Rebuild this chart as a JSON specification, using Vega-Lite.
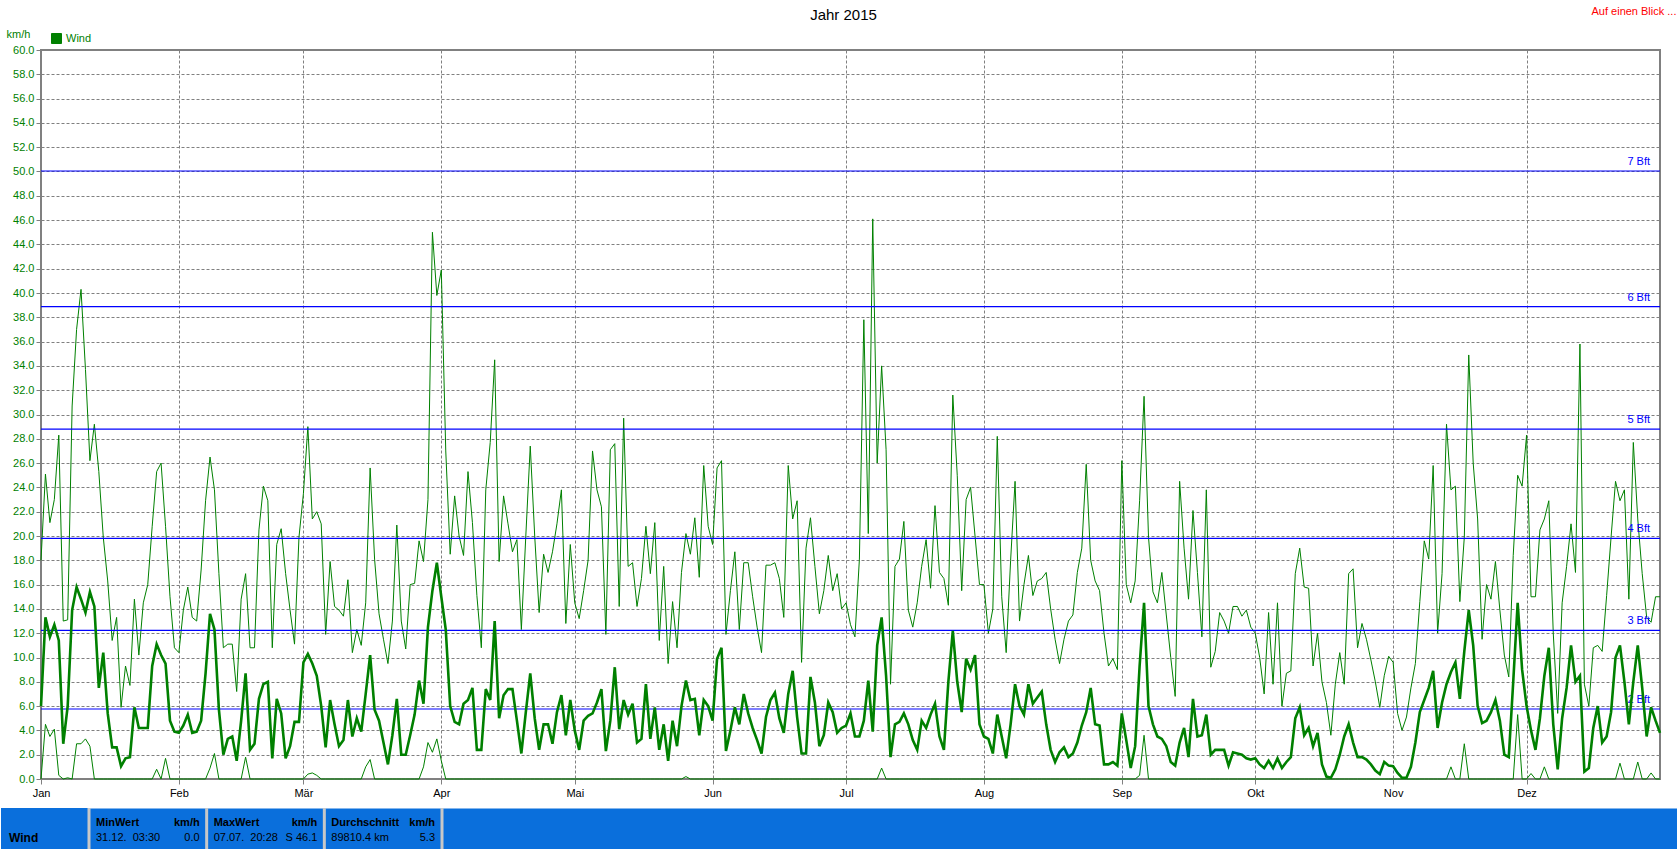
{
"$schema": "https://vega.github.io/schema/vega-lite/v6.json",
"background": "white",
"padding": {"left": 0, "right": 0, "top": 6, "bottom": 0},
"title": {"text": "Auf einen Blick ...", "anchor": "end", "frame": "bounds", "color": "#ff0000", "fontSize": 11, "fontWeight": "normal", "font": "Liberation Sans", "offset": -10, "dx": -2},
"spacing": 7,
"datasets": {
"bft": [{"bft":"2 Bft","v":5.76},{"bft":"3 Bft","v":12.24},{"bft":"4 Bft","v":19.8},{"bft":"5 Bft","v":28.8},{"bft":"6 Bft","v":38.88},{"bft":"7 Bft","v":50.04}],
"stats": [
{"cell":"MinWert","row":"h","left":"MinWert","right":"km/h"},
{"cell":"MinWert","row":"v","left":"31.12.\u00a0\u00a003:30","right":"0.0"},
{"cell":"MaxWert","row":"h","left":"MaxWert","right":"km/h"},
{"cell":"MaxWert","row":"v","left":"07.07.\u00a0\u00a020:28","right":"S 46.1"},
{"cell":"Durchschnitt","row":"h","left":"Durchschnitt","right":"km/h"},
{"cell":"Durchschnitt","row":"v","left":"89810.4 km","right":"5.3"}],
"wind": [
{"date":"2015-01-01","max":18,"avg":6,"min":0},
{"date":"2015-01-02","max":25.1,"avg":13.3,"min":4.5},
{"date":"2015-01-03","max":21.1,"avg":11.7,"min":3.5},
{"date":"2015-01-04","max":23,"avg":12.7,"min":4.1},
{"date":"2015-01-05","max":28.3,"avg":11.4,"min":0.3},
{"date":"2015-01-06","max":13,"avg":2.9,"min":0},
{"date":"2015-01-07","max":13.1,"avg":6,"min":0.1},
{"date":"2015-01-08","max":30.7,"avg":13.9,"min":0},
{"date":"2015-01-09","max":37,"avg":15.8,"min":2.9},
{"date":"2015-01-10","max":40.3,"avg":14.8,"min":2.9},
{"date":"2015-01-11","max":33.7,"avg":13.7,"min":3.3},
{"date":"2015-01-12","max":26.2,"avg":15.4,"min":2.7},
{"date":"2015-01-13","max":29.2,"avg":14.2,"min":0},
{"date":"2015-01-14","max":25.3,"avg":7.5,"min":0},
{"date":"2015-01-15","max":19.9,"avg":10.4,"min":0},
{"date":"2015-01-16","max":16.3,"avg":5.4,"min":0},
{"date":"2015-01-17","max":11.4,"avg":2.6,"min":0},
{"date":"2015-01-18","max":13.3,"avg":2.6,"min":0},
{"date":"2015-01-19","max":5.9,"avg":1.05,"min":0},
{"date":"2015-01-20","max":9.3,"avg":1.7,"min":0},
{"date":"2015-01-21","max":7.7,"avg":1.8,"min":0},
{"date":"2015-01-22","max":14.8,"avg":5.9,"min":0},
{"date":"2015-01-23","max":10.2,"avg":4.2,"min":0},
{"date":"2015-01-24","max":14.5,"avg":4.2,"min":0},
{"date":"2015-01-25","max":16,"avg":4.2,"min":0},
{"date":"2015-01-26","max":20.8,"avg":9.3,"min":0},
{"date":"2015-01-27","max":25.3,"avg":11.1,"min":0.8},
{"date":"2015-01-28","max":26,"avg":10.2,"min":0},
{"date":"2015-01-29","max":20.8,"avg":9.5,"min":1.7},
{"date":"2015-01-30","max":15,"avg":4.8,"min":0},
{"date":"2015-01-31","max":10.8,"avg":3.9,"min":0},
{"date":"2015-02-01","max":10.4,"avg":3.8,"min":0},
{"date":"2015-02-02","max":13.9,"avg":4.4,"min":0},
{"date":"2015-02-03","max":15.8,"avg":5.3,"min":0},
{"date":"2015-02-04","max":13.3,"avg":3.8,"min":0},
{"date":"2015-02-05","max":13,"avg":3.9,"min":0},
{"date":"2015-02-06","max":17.2,"avg":4.8,"min":0},
{"date":"2015-02-07","max":22.9,"avg":8.7,"min":0},
{"date":"2015-02-08","max":26.5,"avg":13.6,"min":0.9},
{"date":"2015-02-09","max":23.8,"avg":12.3,"min":2.1},
{"date":"2015-02-10","max":16.9,"avg":5.7,"min":0},
{"date":"2015-02-11","max":10.8,"avg":2,"min":0},
{"date":"2015-02-12","max":11.1,"avg":3.3,"min":0},
{"date":"2015-02-13","max":11.1,"avg":3.5,"min":0},
{"date":"2015-02-14","max":7.2,"avg":1.5,"min":0},
{"date":"2015-02-15","max":14.8,"avg":4.8,"min":0},
{"date":"2015-02-16","max":16.9,"avg":8.7,"min":1.8},
{"date":"2015-02-17","max":10.8,"avg":2.4,"min":0},
{"date":"2015-02-18","max":10.8,"avg":2.9,"min":0},
{"date":"2015-02-19","max":20.5,"avg":6.6,"min":0},
{"date":"2015-02-20","max":24.1,"avg":7.8,"min":0},
{"date":"2015-02-21","max":22.9,"avg":8,"min":0},
{"date":"2015-02-22","max":10.8,"avg":1.7,"min":0},
{"date":"2015-02-23","max":19.3,"avg":6.6,"min":0},
{"date":"2015-02-24","max":20.6,"avg":5.4,"min":0},
{"date":"2015-02-25","max":16.9,"avg":1.7,"min":0},
{"date":"2015-02-26","max":13.9,"avg":2.7,"min":0},
{"date":"2015-02-27","max":11.1,"avg":4.7,"min":0},
{"date":"2015-02-28","max":19.9,"avg":4.7,"min":0},
{"date":"2015-03-01","max":23.5,"avg":9.6,"min":0},
{"date":"2015-03-02","max":29,"avg":10.3,"min":0.4},
{"date":"2015-03-03","max":21.4,"avg":9.5,"min":0.5},
{"date":"2015-03-04","max":22,"avg":8.5,"min":0.3},
{"date":"2015-03-05","max":21,"avg":6,"min":0},
{"date":"2015-03-06","max":11.9,"avg":2.6,"min":0},
{"date":"2015-03-07","max":17.9,"avg":6.5,"min":0},
{"date":"2015-03-08","max":14.2,"avg":4.5,"min":0},
{"date":"2015-03-09","max":13.9,"avg":2.7,"min":0},
{"date":"2015-03-10","max":13.4,"avg":3.2,"min":0},
{"date":"2015-03-11","max":16.4,"avg":6.5,"min":0},
{"date":"2015-03-12","max":10.4,"avg":3.5,"min":0},
{"date":"2015-03-13","max":12.3,"avg":5,"min":0},
{"date":"2015-03-14","max":11,"avg":3.9,"min":0},
{"date":"2015-03-15","max":14.5,"avg":7,"min":1},
{"date":"2015-03-16","max":25.6,"avg":10.2,"min":1.6},
{"date":"2015-03-17","max":18.1,"avg":5.7,"min":0},
{"date":"2015-03-18","max":13.6,"avg":4.8,"min":0},
{"date":"2015-03-19","max":11.5,"avg":3,"min":0},
{"date":"2015-03-20","max":9.5,"avg":1.2,"min":0},
{"date":"2015-03-21","max":13,"avg":3.6,"min":0},
{"date":"2015-03-22","max":20.9,"avg":6.6,"min":0},
{"date":"2015-03-23","max":13,"avg":2,"min":0},
{"date":"2015-03-24","max":10.7,"avg":2,"min":0},
{"date":"2015-03-25","max":16,"avg":3.6,"min":0},
{"date":"2015-03-26","max":16.1,"avg":5.3,"min":0},
{"date":"2015-03-27","max":19.6,"avg":8.1,"min":0},
{"date":"2015-03-28","max":17.9,"avg":6.2,"min":1},
{"date":"2015-03-29","max":23,"avg":12.5,"min":3},
{"date":"2015-03-30","max":45,"avg":15.5,"min":2.2},
{"date":"2015-03-31","max":39.8,"avg":17.8,"min":3.3},
{"date":"2015-04-01","max":41.9,"avg":15,"min":1.5},
{"date":"2015-04-02","max":27,"avg":12.3,"min":0},
{"date":"2015-04-03","max":18.5,"avg":6,"min":0},
{"date":"2015-04-04","max":23.3,"avg":4.7,"min":0},
{"date":"2015-04-05","max":20,"avg":4.5,"min":0},
{"date":"2015-04-06","max":18.4,"avg":6.2,"min":0},
{"date":"2015-04-07","max":25.3,"avg":6.5,"min":0},
{"date":"2015-04-08","max":21.1,"avg":7.5,"min":0},
{"date":"2015-04-09","max":15.1,"avg":2.4,"min":0},
{"date":"2015-04-10","max":10.8,"avg":2.4,"min":0},
{"date":"2015-04-11","max":23.8,"avg":7.4,"min":0},
{"date":"2015-04-12","max":27.7,"avg":6.5,"min":0},
{"date":"2015-04-13","max":34.5,"avg":13,"min":0},
{"date":"2015-04-14","max":17.9,"avg":5,"min":0},
{"date":"2015-04-15","max":23.3,"avg":6.9,"min":0},
{"date":"2015-04-16","max":21,"avg":7.4,"min":0},
{"date":"2015-04-17","max":18.7,"avg":7.4,"min":0},
{"date":"2015-04-18","max":19.7,"avg":4.8,"min":0},
{"date":"2015-04-19","max":12.3,"avg":2.1,"min":0},
{"date":"2015-04-20","max":20,"avg":5.5,"min":0},
{"date":"2015-04-21","max":27.4,"avg":8.7,"min":0},
{"date":"2015-04-22","max":20,"avg":5,"min":0},
{"date":"2015-04-23","max":13.7,"avg":2.4,"min":0},
{"date":"2015-04-24","max":18.5,"avg":4.5,"min":0},
{"date":"2015-04-25","max":17,"avg":4.5,"min":0},
{"date":"2015-04-26","max":18.7,"avg":2.9,"min":0},
{"date":"2015-04-27","max":21,"avg":5.5,"min":0},
{"date":"2015-04-28","max":23.8,"avg":6.9,"min":0},
{"date":"2015-04-29","max":12.8,"avg":3.6,"min":0},
{"date":"2015-04-30","max":19.3,"avg":6.5,"min":0},
{"date":"2015-05-01","max":14.5,"avg":4,"min":0},
{"date":"2015-05-02","max":13.2,"avg":2.4,"min":0},
{"date":"2015-05-03","max":15.5,"avg":4.8,"min":0},
{"date":"2015-05-04","max":18,"avg":5.2,"min":0},
{"date":"2015-05-05","max":27,"avg":5.4,"min":0},
{"date":"2015-05-06","max":23.8,"avg":6.3,"min":0},
{"date":"2015-05-07","max":22.4,"avg":7.4,"min":0},
{"date":"2015-05-08","max":11.9,"avg":2.3,"min":0},
{"date":"2015-05-09","max":27.1,"avg":4.8,"min":0},
{"date":"2015-05-10","max":27.6,"avg":9.2,"min":0},
{"date":"2015-05-11","max":14.2,"avg":4.1,"min":0},
{"date":"2015-05-12","max":29.7,"avg":6.5,"min":0},
{"date":"2015-05-13","max":17.5,"avg":5.3,"min":0},
{"date":"2015-05-14","max":17.8,"avg":6.2,"min":0},
{"date":"2015-05-15","max":14.2,"avg":3,"min":0},
{"date":"2015-05-16","max":16.5,"avg":3.3,"min":0},
{"date":"2015-05-17","max":20.8,"avg":7.8,"min":0},
{"date":"2015-05-18","max":16.9,"avg":3.3,"min":0},
{"date":"2015-05-19","max":21.1,"avg":5.9,"min":0},
{"date":"2015-05-20","max":11.4,"avg":2.4,"min":0},
{"date":"2015-05-21","max":17.5,"avg":4.5,"min":0},
{"date":"2015-05-22","max":9.5,"avg":1.5,"min":0},
{"date":"2015-05-23","max":14.6,"avg":4.8,"min":0},
{"date":"2015-05-24","max":10.8,"avg":2.7,"min":0},
{"date":"2015-05-25","max":17,"avg":6,"min":0},
{"date":"2015-05-26","max":20.2,"avg":8.1,"min":0.2},
{"date":"2015-05-27","max":18.5,"avg":6.5,"min":0},
{"date":"2015-05-28","max":21.5,"avg":6.6,"min":0},
{"date":"2015-05-29","max":16.6,"avg":3.6,"min":0},
{"date":"2015-05-30","max":25.8,"avg":6.5,"min":0},
{"date":"2015-05-31","max":20.8,"avg":6,"min":0},
{"date":"2015-06-01","max":19.3,"avg":4.8,"min":0},
{"date":"2015-06-02","max":25.6,"avg":9.9,"min":0},
{"date":"2015-06-03","max":26.2,"avg":10.8,"min":0},
{"date":"2015-06-04","max":11.9,"avg":2.3,"min":0},
{"date":"2015-06-05","max":15.5,"avg":4,"min":0},
{"date":"2015-06-06","max":18.7,"avg":5.9,"min":0},
{"date":"2015-06-07","max":12.3,"avg":4.5,"min":0},
{"date":"2015-06-08","max":17.8,"avg":7,"min":0},
{"date":"2015-06-09","max":17.8,"avg":5.4,"min":0},
{"date":"2015-06-10","max":15,"avg":4.2,"min":0},
{"date":"2015-06-11","max":12.5,"avg":3.2,"min":0},
{"date":"2015-06-12","max":10.4,"avg":2.1,"min":0},
{"date":"2015-06-13","max":17.6,"avg":5.1,"min":0},
{"date":"2015-06-14","max":17.6,"avg":6.5,"min":0},
{"date":"2015-06-15","max":17.8,"avg":7.1,"min":0},
{"date":"2015-06-16","max":16.5,"avg":5,"min":0},
{"date":"2015-06-17","max":13.3,"avg":3.8,"min":0},
{"date":"2015-06-18","max":25.8,"avg":7,"min":0},
{"date":"2015-06-19","max":21.4,"avg":8.9,"min":0},
{"date":"2015-06-20","max":22.9,"avg":5.1,"min":0},
{"date":"2015-06-21","max":9.6,"avg":2.1,"min":0},
{"date":"2015-06-22","max":19,"avg":2.1,"min":0},
{"date":"2015-06-23","max":21.5,"avg":8.4,"min":0},
{"date":"2015-06-24","max":17.5,"avg":6.3,"min":0},
{"date":"2015-06-25","max":13.6,"avg":2.7,"min":0},
{"date":"2015-06-26","max":15.5,"avg":3.6,"min":0},
{"date":"2015-06-27","max":18.4,"avg":6.3,"min":0},
{"date":"2015-06-28","max":15.5,"avg":5.5,"min":0},
{"date":"2015-06-29","max":16.9,"avg":3.8,"min":0},
{"date":"2015-06-30","max":14,"avg":4.2,"min":0},
{"date":"2015-07-01","max":14.5,"avg":4.4,"min":0},
{"date":"2015-07-02","max":12.7,"avg":5.4,"min":0},
{"date":"2015-07-03","max":11.7,"avg":3.5,"min":0},
{"date":"2015-07-04","max":18.1,"avg":3.5,"min":0},
{"date":"2015-07-05","max":37.8,"avg":4.8,"min":0},
{"date":"2015-07-06","max":20.2,"avg":8.1,"min":0},
{"date":"2015-07-07","max":46.1,"avg":3.9,"min":0},
{"date":"2015-07-08","max":26,"avg":11,"min":0},
{"date":"2015-07-09","max":34,"avg":13.3,"min":0.9},
{"date":"2015-07-10","max":27.1,"avg":8.5,"min":0},
{"date":"2015-07-11","max":7.8,"avg":1.8,"min":0},
{"date":"2015-07-12","max":17.5,"avg":4.5,"min":0},
{"date":"2015-07-13","max":18.1,"avg":4.7,"min":0},
{"date":"2015-07-14","max":21.2,"avg":5.4,"min":0},
{"date":"2015-07-15","max":13.9,"avg":4.5,"min":0},
{"date":"2015-07-16","max":12.5,"avg":3.2,"min":0},
{"date":"2015-07-17","max":14.5,"avg":2.4,"min":0},
{"date":"2015-07-18","max":17.5,"avg":4.8,"min":0},
{"date":"2015-07-19","max":19.7,"avg":4.2,"min":0},
{"date":"2015-07-20","max":15.7,"avg":5.3,"min":0},
{"date":"2015-07-21","max":22.5,"avg":6.2,"min":0},
{"date":"2015-07-22","max":17,"avg":3.5,"min":0},
{"date":"2015-07-23","max":16.5,"avg":2.4,"min":0},
{"date":"2015-07-24","max":14.3,"avg":8,"min":0},
{"date":"2015-07-25","max":31.6,"avg":12.2,"min":0},
{"date":"2015-07-26","max":25,"avg":8,"min":0},
{"date":"2015-07-27","max":15.5,"avg":5.5,"min":0},
{"date":"2015-07-28","max":23,"avg":9.9,"min":0},
{"date":"2015-07-29","max":24,"avg":9,"min":0},
{"date":"2015-07-30","max":20,"avg":10.2,"min":0},
{"date":"2015-07-31","max":16,"avg":4.5,"min":0},
{"date":"2015-08-01","max":16,"avg":3.5,"min":0},
{"date":"2015-08-02","max":12,"avg":3.3,"min":0},
{"date":"2015-08-03","max":14,"avg":2.1,"min":0},
{"date":"2015-08-04","max":28.2,"avg":5.3,"min":0},
{"date":"2015-08-05","max":15,"avg":3.5,"min":0},
{"date":"2015-08-06","max":10.4,"avg":1.7,"min":0},
{"date":"2015-08-07","max":18,"avg":4.5,"min":0},
{"date":"2015-08-08","max":24.5,"avg":7.8,"min":0},
{"date":"2015-08-09","max":13,"avg":6,"min":0},
{"date":"2015-08-10","max":16,"avg":5.3,"min":0},
{"date":"2015-08-11","max":18.4,"avg":7.8,"min":0},
{"date":"2015-08-12","max":15.1,"avg":6.2,"min":0},
{"date":"2015-08-13","max":16.3,"avg":6.7,"min":0},
{"date":"2015-08-14","max":16.5,"avg":7.2,"min":0},
{"date":"2015-08-15","max":17,"avg":4.5,"min":0},
{"date":"2015-08-16","max":14,"avg":2.4,"min":0},
{"date":"2015-08-17","max":11.5,"avg":1.4,"min":0},
{"date":"2015-08-18","max":9.5,"avg":2.2,"min":0},
{"date":"2015-08-19","max":11.5,"avg":2.6,"min":0},
{"date":"2015-08-20","max":13,"avg":1.8,"min":0},
{"date":"2015-08-21","max":13.5,"avg":2.1,"min":0},
{"date":"2015-08-22","max":17,"avg":3,"min":0},
{"date":"2015-08-23","max":19,"avg":4.4,"min":0},
{"date":"2015-08-24","max":25.9,"avg":5.5,"min":0},
{"date":"2015-08-25","max":18,"avg":7.5,"min":0},
{"date":"2015-08-26","max":16.3,"avg":4.5,"min":0},
{"date":"2015-08-27","max":15.5,"avg":4.4,"min":0},
{"date":"2015-08-28","max":12,"avg":1.2,"min":0},
{"date":"2015-08-29","max":9.3,"avg":1.2,"min":0},
{"date":"2015-08-30","max":9.9,"avg":1.4,"min":0},
{"date":"2015-08-31","max":9,"avg":1.1,"min":0},
{"date":"2015-09-01","max":26.2,"avg":5.4,"min":0},
{"date":"2015-09-02","max":16,"avg":3.2,"min":0},
{"date":"2015-09-03","max":14.5,"avg":0.9,"min":0},
{"date":"2015-09-04","max":16.3,"avg":2.7,"min":0},
{"date":"2015-09-05","max":22.9,"avg":9.3,"min":0.3},
{"date":"2015-09-06","max":31.5,"avg":14.5,"min":3.6},
{"date":"2015-09-07","max":19.9,"avg":6,"min":0},
{"date":"2015-09-08","max":15.4,"avg":4.5,"min":0},
{"date":"2015-09-09","max":14.5,"avg":3.5,"min":0},
{"date":"2015-09-10","max":17,"avg":3.3,"min":0},
{"date":"2015-09-11","max":13.5,"avg":2.7,"min":0},
{"date":"2015-09-12","max":10,"avg":1.4,"min":0},
{"date":"2015-09-13","max":6.8,"avg":1.1,"min":0},
{"date":"2015-09-14","max":24.5,"avg":3,"min":0},
{"date":"2015-09-15","max":19,"avg":4.2,"min":0},
{"date":"2015-09-16","max":14.8,"avg":1.8,"min":0},
{"date":"2015-09-17","max":22.1,"avg":6.6,"min":0},
{"date":"2015-09-18","max":17,"avg":3.5,"min":0},
{"date":"2015-09-19","max":11.7,"avg":3.6,"min":0},
{"date":"2015-09-20","max":23.8,"avg":5.3,"min":0},
{"date":"2015-09-21","max":9.2,"avg":2,"min":0},
{"date":"2015-09-22","max":10.5,"avg":2.4,"min":0},
{"date":"2015-09-23","max":13.7,"avg":2.4,"min":0},
{"date":"2015-09-24","max":13,"avg":2.4,"min":0},
{"date":"2015-09-25","max":12,"avg":1.1,"min":0},
{"date":"2015-09-26","max":14.2,"avg":2.2,"min":0},
{"date":"2015-09-27","max":14.2,"avg":2.1,"min":0},
{"date":"2015-09-28","max":13.4,"avg":2,"min":0},
{"date":"2015-09-29","max":13.9,"avg":1.7,"min":0},
{"date":"2015-09-30","max":12.5,"avg":1.6,"min":0},
{"date":"2015-10-01","max":12,"avg":1.7,"min":0},
{"date":"2015-10-02","max":10,"avg":1.2,"min":0},
{"date":"2015-10-03","max":7,"avg":0.9,"min":0},
{"date":"2015-10-04","max":13.7,"avg":1.5,"min":0},
{"date":"2015-10-05","max":7.8,"avg":0.9,"min":0},
{"date":"2015-10-06","max":14.5,"avg":1.7,"min":0},
{"date":"2015-10-07","max":6,"avg":0.9,"min":0},
{"date":"2015-10-08","max":8.7,"avg":1.4,"min":0},
{"date":"2015-10-09","max":8.9,"avg":1.8,"min":0},
{"date":"2015-10-10","max":16.9,"avg":5,"min":0},
{"date":"2015-10-11","max":19,"avg":5.9,"min":0},
{"date":"2015-10-12","max":15.8,"avg":3.6,"min":0},
{"date":"2015-10-13","max":15.7,"avg":4.2,"min":0},
{"date":"2015-10-14","max":9.3,"avg":2.7,"min":0},
{"date":"2015-10-15","max":12,"avg":3.8,"min":0},
{"date":"2015-10-16","max":8,"avg":1.2,"min":0},
{"date":"2015-10-17","max":6.3,"avg":0.2,"min":0},
{"date":"2015-10-18","max":3.6,"avg":0.1,"min":0},
{"date":"2015-10-19","max":7.8,"avg":0.8,"min":0},
{"date":"2015-10-20","max":10.4,"avg":2,"min":0},
{"date":"2015-10-21","max":7.8,"avg":3.5,"min":0},
{"date":"2015-10-22","max":16.9,"avg":4.5,"min":0},
{"date":"2015-10-23","max":17.3,"avg":3,"min":0},
{"date":"2015-10-24","max":10.8,"avg":1.8,"min":0},
{"date":"2015-10-25","max":12.8,"avg":1.8,"min":0},
{"date":"2015-10-26","max":11.5,"avg":1.6,"min":0},
{"date":"2015-10-27","max":9.8,"avg":1.2,"min":0},
{"date":"2015-10-28","max":8,"avg":0.7,"min":0},
{"date":"2015-10-29","max":5.9,"avg":0.4,"min":0},
{"date":"2015-10-30","max":8.5,"avg":1.4,"min":0},
{"date":"2015-10-31","max":10.1,"avg":1.1,"min":0},
{"date":"2015-11-01","max":9.6,"avg":1.05,"min":0},
{"date":"2015-11-02","max":5.4,"avg":0.5,"min":0},
{"date":"2015-11-03","max":4,"avg":0.1,"min":0},
{"date":"2015-11-04","max":5.1,"avg":0.1,"min":0},
{"date":"2015-11-05","max":7.5,"avg":1,"min":0},
{"date":"2015-11-06","max":9.5,"avg":3,"min":0},
{"date":"2015-11-07","max":14.6,"avg":5.5,"min":0},
{"date":"2015-11-08","max":19.6,"avg":6.5,"min":0},
{"date":"2015-11-09","max":18.1,"avg":7.5,"min":0},
{"date":"2015-11-10","max":25.8,"avg":8.9,"min":0},
{"date":"2015-11-11","max":12,"avg":4.2,"min":0},
{"date":"2015-11-12","max":16.9,"avg":6.3,"min":0},
{"date":"2015-11-13","max":29.2,"avg":7.8,"min":0},
{"date":"2015-11-14","max":23.8,"avg":8.8,"min":1},
{"date":"2015-11-15","max":24.1,"avg":9.6,"min":0},
{"date":"2015-11-16","max":14.6,"avg":6.6,"min":0},
{"date":"2015-11-17","max":19.9,"avg":10.5,"min":2.9},
{"date":"2015-11-18","max":34.9,"avg":13.9,"min":0},
{"date":"2015-11-19","max":26,"avg":11,"min":0},
{"date":"2015-11-20","max":21.4,"avg":6,"min":0},
{"date":"2015-11-21","max":11.5,"avg":4.6,"min":0},
{"date":"2015-11-22","max":16,"avg":4.8,"min":0},
{"date":"2015-11-23","max":14.8,"avg":5.5,"min":0},
{"date":"2015-11-24","max":17.9,"avg":6.5,"min":0},
{"date":"2015-11-25","max":13.9,"avg":4.8,"min":0},
{"date":"2015-11-26","max":10.2,"avg":2,"min":0},
{"date":"2015-11-27","max":8.4,"avg":1.8,"min":0},
{"date":"2015-11-28","max":18.4,"avg":8,"min":0},
{"date":"2015-11-29","max":25,"avg":14.5,"min":5.3},
{"date":"2015-11-30","max":24.1,"avg":9,"min":0},
{"date":"2015-12-01","max":28.3,"avg":6,"min":0},
{"date":"2015-12-02","max":15,"avg":4,"min":0.45},
{"date":"2015-12-03","max":15,"avg":2.4,"min":0},
{"date":"2015-12-04","max":20.5,"avg":5,"min":0},
{"date":"2015-12-05","max":21.4,"avg":8.5,"min":1},
{"date":"2015-12-06","max":22.9,"avg":10.8,"min":0},
{"date":"2015-12-07","max":12,"avg":4.5,"min":0},
{"date":"2015-12-08","max":5.4,"avg":0.8,"min":0},
{"date":"2015-12-09","max":14.5,"avg":5,"min":0},
{"date":"2015-12-10","max":17.5,"avg":7.5,"min":0},
{"date":"2015-12-11","max":21,"avg":11,"min":0},
{"date":"2015-12-12","max":17,"avg":8,"min":0},
{"date":"2015-12-13","max":35.8,"avg":8.5,"min":0},
{"date":"2015-12-14","max":7.8,"avg":0.6,"min":0},
{"date":"2015-12-15","max":6,"avg":0.9,"min":0},
{"date":"2015-12-16","max":10.8,"avg":4.2,"min":0},
{"date":"2015-12-17","max":11,"avg":6,"min":0},
{"date":"2015-12-18","max":10.5,"avg":3,"min":0},
{"date":"2015-12-19","max":15.1,"avg":3.5,"min":0},
{"date":"2015-12-20","max":19.9,"avg":5.5,"min":0},
{"date":"2015-12-21","max":24.5,"avg":10,"min":0},
{"date":"2015-12-22","max":22.9,"avg":11,"min":1.3},
{"date":"2015-12-23","max":23.8,"avg":8,"min":0},
{"date":"2015-12-24","max":14.8,"avg":4.5,"min":0},
{"date":"2015-12-25","max":27.7,"avg":8,"min":0},
{"date":"2015-12-26","max":21.4,"avg":11,"min":1.4},
{"date":"2015-12-27","max":16.9,"avg":7.5,"min":0},
{"date":"2015-12-28","max":13.3,"avg":3.5,"min":0},
{"date":"2015-12-29","max":12.9,"avg":5.9,"min":0.5},
{"date":"2015-12-30","max":15,"avg":4.8,"min":0},
{"date":"2015-12-31","max":15,"avg":3.8,"min":0}
]
},
"vconcat": [
{
"width": 1619,
"height": 729,
"title": {"text": "Jahr 2015", "anchor": "middle", "frame": "group", "fontSize": 15, "fontWeight": "normal", "color": "#000000", "font": "Liberation Sans", "offset": 5, "dx": -7},
"view": {"stroke": "#808080", "strokeWidth": 2},
"layer": [
{
"data": {"name": "wind"},
"mark": {"type": "line", "color": "#008000", "strokeWidth": 1},
"encoding": {
"x": {"field": "date", "type": "temporal",
"scale": {"type": "utc", "domain": [{"year": 2015, "month": 1, "date": 1, "utc": true}, {"year": 2015, "month": 12, "date": 31, "utc": true}]},
"axis": {
"values": [
{"year": 2015, "month": 1, "date": 1, "utc": true},
{"year": 2015, "month": 2, "date": 1, "utc": true},
{"year": 2015, "month": 3, "date": 1, "utc": true},
{"year": 2015, "month": 4, "date": 1, "utc": true},
{"year": 2015, "month": 5, "date": 1, "utc": true},
{"year": 2015, "month": 6, "date": 1, "utc": true},
{"year": 2015, "month": 7, "date": 1, "utc": true},
{"year": 2015, "month": 8, "date": 1, "utc": true},
{"year": 2015, "month": 9, "date": 1, "utc": true},
{"year": 2015, "month": 10, "date": 1, "utc": true},
{"year": 2015, "month": 11, "date": 1, "utc": true},
{"year": 2015, "month": 12, "date": 1, "utc": true}],
"tickCount": 40,
"labelExpr": "['Jan','Feb','Mär','Apr','Mai','Jun','Jul','Aug','Sep','Okt','Nov','Dez'][utcmonth(datum.value)]",
"grid": true, "gridColor": "#808080", "gridDash": [3, 2], "gridOpacity": 1, "gridWidth": 1,
"domain": false, "ticks": true, "tickColor": "#808080", "tickSize": 5,
"labelFontSize": 11, "labelFont": "Liberation Sans", "labelColor": "#000000", "labelPadding": 3,
"labelFlush": false, "labelOverlap": false, "title": null
}
},
"y": {"field": "max", "type": "quantitative",
"scale": {"domain": [0, 60], "nice": false},
"axis": {
"values": [0,2,4,6,8,10,12,14,16,18,20,22,24,26,28,30,32,34,36,38,40,42,44,46,48,50,52,54,56,58,60],
"tickCount": 40,
"format": ".1f",
"grid": true, "gridColor": "#808080", "gridDash": [3, 2], "gridOpacity": 1, "gridWidth": 1,
"domain": false, "tickColor": "#808080", "tickSize": 5,
"labelFontSize": 11, "labelFont": "Liberation Sans", "labelColor": "#008000", "labelPadding": 2, "labelFlush": false, "labelOverlap": false, "labelBound": false,
"title": "km/h", "titleAngle": 0, "titleAlign": "left", "titleBaseline": "middle",
"titleX": -35, "titleY": -16, "titleColor": "#008000", "titleFontSize": 11, "titleFontWeight": "normal", "titleFont": "Liberation Sans"
}
}
}
},
{
"data": {"name": "bft"},
"mark": {"type": "rule", "color": "#0000ff", "strokeWidth": 1.2},
"encoding": {"y": {"field": "v", "type": "quantitative"}}
},
{
"data": {"name": "bft"},
"mark": {"type": "text", "align": "right", "baseline": "middle", "dx": -10, "dy": -9, "color": "#0000ff", "fontSize": 11, "font": "Liberation Sans"},
"encoding": {
"x": {"datum": {"year": 2015, "month": 12, "date": 31, "utc": true}, "type": "temporal"},
"y": {"field": "v", "type": "quantitative"},
"text": {"field": "bft", "type": "nominal"}
}
},
{
"data": {"name": "wind"},
"mark": {"type": "line", "color": "#008000", "strokeWidth": 1},
"encoding": {
"x": {"field": "date", "type": "temporal"},
"y": {"field": "min", "type": "quantitative"}
}
},
{
"data": {"name": "wind"},
"mark": {"type": "line", "strokeWidth": 2.6},
"encoding": {
"x": {"field": "date", "type": "temporal"},
"y": {"field": "avg", "type": "quantitative"},
"color": {"datum": "Wind", "type": "nominal",
"scale": {"domain": ["Wind"], "range": ["#008000"]},
"legend": {"orient": "none", "legendX": 10, "legendY": -17, "title": null,
"symbolType": "square", "symbolSize": 100, "symbolFillColor": "#008000", "symbolStrokeColor": "#000000", "symbolStrokeWidth": 1,
"labelFontSize": 11, "labelFont": "Liberation Sans", "labelColor": "#008000", "labelOffset": 4, "padding": 0,
"encode": {"symbols": {"update": {"fill": {"value": "#008000"}, "stroke": {"value": "#000000"}, "strokeWidth": {"value": 1}, "shape": {"value": "square"}, "opacity": {"value": 1}}}}
}
}
}
}
]
},
{
"width": 1637,
"height": 41,
"view": {"stroke": "transparent", "fill": "#0a6fdc"},
"resolve": {"scale": {"x": "independent"}},
"layer": [
{
"data": {"values": [{"cell": "Wind", "row": "v"}]},
"mark": {"type": "rect", "color": "#0a6fdc"},
"encoding": {"x": {"field": "cell", "type": "nominal", "scale": {"type": "band", "domain": ["Wind"], "range": [-40, 48], "paddingInner": 0, "paddingOuter": 0}, "axis": null}}
},
{
"data": {"values": [{"cell": "Wind", "row": "v"}]},
"mark": {"type": "rule", "color": "#c8c8c8", "strokeWidth": 3},
"encoding": {"x": {"field": "cell", "type": "nominal", "bandPosition": 1, "scale": {"type": "band", "domain": ["Wind"], "range": [-40, 48], "paddingInner": 0, "paddingOuter": 0}, "axis": null}}
},
{
"data": {"values": [{"cell": "Wind", "row": "v"}]},
"mark": {"type": "text", "align": "left", "baseline": "middle", "dx": 8, "fontWeight": "bold", "fontSize": 12, "font": "Liberation Sans", "color": "#000000"},
"encoding": {
"x": {"field": "cell", "type": "nominal", "bandPosition": 0, "scale": {"type": "band", "domain": ["Wind"], "range": [-40, 48], "paddingInner": 0, "paddingOuter": 0}, "axis": null},
"y": {"field": "row", "type": "nominal", "scale": {"type": "point", "domain": ["h", "v"], "range": [15, 30], "padding": 0}, "axis": null},
"text": {"field": "cell", "type": "nominal"}
}
},
{
"data": {"name": "stats"},
"transform": [{"filter": "datum.row == 'h'"}],
"mark": {"type": "rule", "color": "#c8c8c8", "strokeWidth": 3},
"encoding": {"x": {"field": "cell", "type": "nominal", "bandPosition": 1, "scale": {"type": "band", "domain": ["MinWert", "MaxWert", "Durchschnitt"], "range": [48, 401], "paddingInner": 0, "paddingOuter": 0}, "axis": null}}
},
{
"data": {"name": "stats"},
"transform": [{"filter": "datum.row == 'h'"}],
"mark": {"type": "text", "align": "left", "baseline": "middle", "dx": 7, "fontWeight": "bold", "fontSize": 11, "font": "Liberation Sans", "color": "#000000"},
"encoding": {
"x": {"field": "cell", "type": "nominal", "bandPosition": 0, "scale": {"type": "band", "domain": ["MinWert", "MaxWert", "Durchschnitt"], "range": [48, 401], "paddingInner": 0, "paddingOuter": 0}, "axis": null},
"y": {"field": "row", "type": "nominal", "axis": null},
"text": {"field": "left", "type": "nominal"}
}
},
{
"data": {"name": "stats"},
"transform": [{"filter": "datum.row == 'h'"}],
"mark": {"type": "text", "align": "right", "baseline": "middle", "dx": -7, "fontWeight": "bold", "fontSize": 11, "font": "Liberation Sans", "color": "#000000"},
"encoding": {
"x": {"field": "cell", "type": "nominal", "bandPosition": 1, "scale": {"type": "band", "domain": ["MinWert", "MaxWert", "Durchschnitt"], "range": [48, 401], "paddingInner": 0, "paddingOuter": 0}, "axis": null},
"y": {"field": "row", "type": "nominal", "axis": null},
"text": {"field": "right", "type": "nominal"}
}
},
{
"data": {"name": "stats"},
"transform": [{"filter": "datum.row == 'v'"}],
"mark": {"type": "text", "align": "left", "baseline": "middle", "dx": 7, "fontSize": 11, "font": "Liberation Sans", "color": "#000000"},
"encoding": {
"x": {"field": "cell", "type": "nominal", "bandPosition": 0, "scale": {"type": "band", "domain": ["MinWert", "MaxWert", "Durchschnitt"], "range": [48, 401], "paddingInner": 0, "paddingOuter": 0}, "axis": null},
"y": {"field": "row", "type": "nominal", "axis": null},
"text": {"field": "left", "type": "nominal"}
}
},
{
"data": {"name": "stats"},
"transform": [{"filter": "datum.row == 'v'"}],
"mark": {"type": "text", "align": "right", "baseline": "middle", "dx": -7, "fontSize": 11, "font": "Liberation Sans", "color": "#000000"},
"encoding": {
"x": {"field": "cell", "type": "nominal", "bandPosition": 1, "scale": {"type": "band", "domain": ["MinWert", "MaxWert", "Durchschnitt"], "range": [48, 401], "paddingInner": 0, "paddingOuter": 0}, "axis": null},
"y": {"field": "row", "type": "nominal", "axis": null},
"text": {"field": "right", "type": "nominal"}
}
}
]
}
],
"config": {
"font": "Liberation Sans",
"view": {"stroke": null},
"axisY": {"labelOverlap": false},
"axisQuantitative": {"labelOverlap": false}
}
}
